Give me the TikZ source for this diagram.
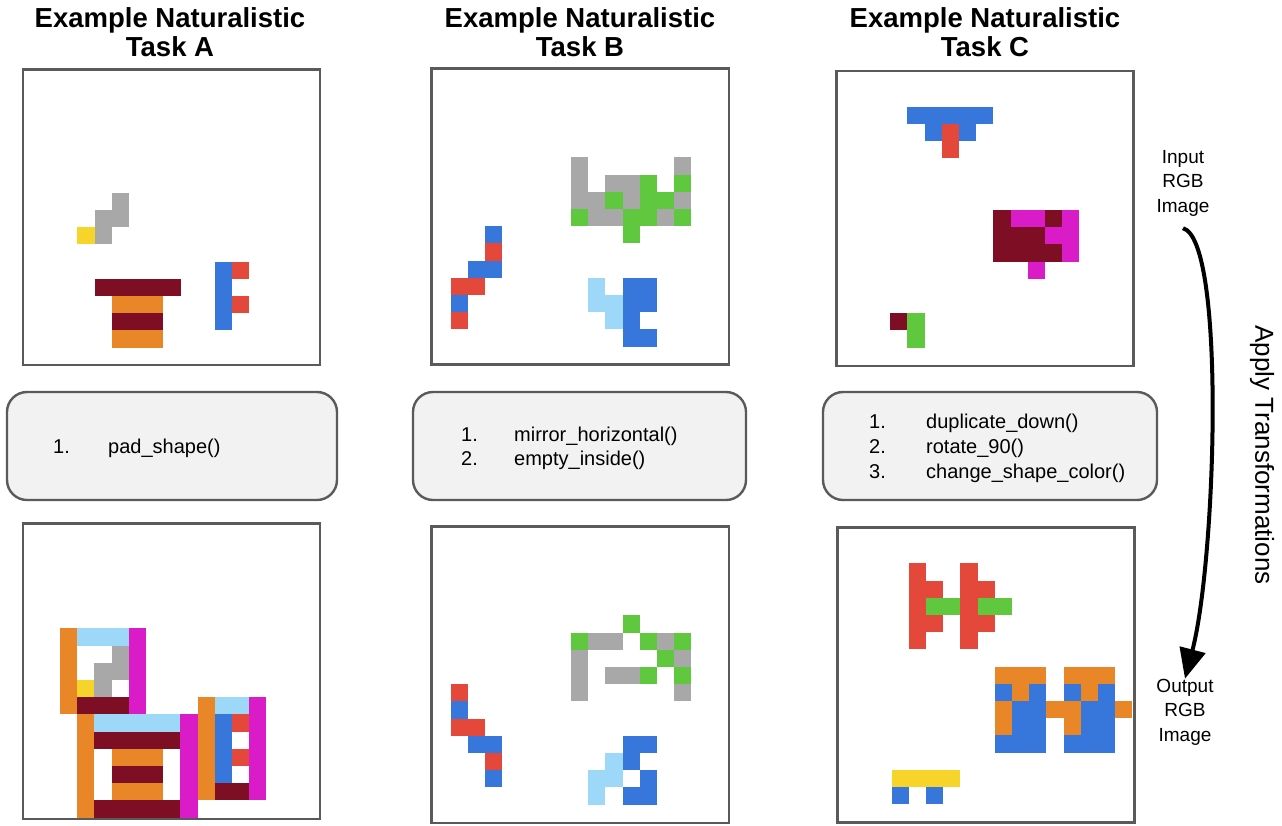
\documentclass[tikz,border=0pt]{standalone}
\usepackage{fontspec}
\setmainfont{Liberation Sans}
\usetikzlibrary{arrows.meta}
\definecolor{cMaroon}{RGB}{125,14,36}
\definecolor{cOrange}{RGB}{232,134,40}
\definecolor{cGrey}{RGB}{168,168,168}
\definecolor{cYellow}{RGB}{246,212,42}
\definecolor{cBlue}{RGB}{55,118,218}
\definecolor{cRed}{RGB}{228,72,58}
\definecolor{cGreen}{RGB}{95,200,62}
\definecolor{cLblue}{RGB}{158,216,248}
\definecolor{cMag}{RGB}{218,28,200}
\definecolor{cBorder}{RGB}{90,90,90}
\definecolor{cBoxFill}{RGB}{242,242,242}
\newcommand\rc[5]{\fill[#5] (#1,#2) rectangle (#3+1,#4+1);}
\tikzset{
  panel/.style={draw=cBorder, line width=2.6pt},
  tbox/.style={draw=cBorder, fill=cBoxFill, line width=2.4pt, rounded corners=20pt, inner sep=0pt},
  title/.style={align=center, inner sep=0pt, font=\fontsize{27.5}{29}\selectfont\bfseries},
  item/.style={anchor=base west, inner sep=0pt, font=\fontsize{20}{24}\selectfont},
  side/.style={align=center, inner sep=0pt, font=\fontsize{19}{24.5}\selectfont},
  flow/.style={line width=4pt, -{Triangle[length=30pt,width=26pt]}},
  grid/.style={x=17.2pt, y=-17.2pt}
}
\begin{document}
\begin{tikzpicture}[x=1pt,y=-1pt]
\useasboundingbox (0,0) rectangle (1282,825);
\fill[white] (0,0) rectangle (1282,825);

% titles
\node[title] (tA) at (170,32) {Example Naturalistic\\Task A};
\node[title] (tB) at (580,32) {Example Naturalistic\\Task B};
\node[title] (tC) at (985,32) {Example Naturalistic\\Task C};

% ---------- Panel A top
\begin{scope}[shift={(77.3,192.7)}, grid]
\rc{2}{0}{2}{1}{cGrey}
\rc{1}{1}{1}{2}{cGrey}
\rc{0}{2}{0}{2}{cYellow}
\rc{1}{5}{5}{5}{cMaroon}
\rc{2}{6}{4}{6}{cOrange}
\rc{2}{7}{4}{7}{cMaroon}
\rc{2}{8}{4}{8}{cOrange}
\rc{8}{4}{8}{7}{cBlue}
\rc{9}{4}{9}{4}{cRed}
\rc{9}{6}{9}{6}{cRed}
\end{scope}
\draw[panel] (22.8,69.5) rectangle (320,365);

% ---------- Panel A bottom
\begin{scope}
\clip (22.8,523.3) rectangle (320,818.8);
\begin{scope}[shift={(60,628.3)}, grid]
\rc{0}{0}{0}{4}{cOrange}
\rc{1}{0}{3}{0}{cLblue}
\rc{4}{0}{4}{4}{cMag}
\rc{3}{1}{3}{2}{cGrey}
\rc{2}{2}{2}{3}{cGrey}
\rc{1}{3}{1}{3}{cYellow}
\rc{1}{4}{3}{4}{cMaroon}
\rc{1}{5}{1}{10}{cOrange}
\rc{2}{5}{6}{5}{cLblue}
\rc{7}{5}{7}{10}{cMag}
\rc{2}{6}{6}{6}{cMaroon}
\rc{3}{7}{5}{7}{cOrange}
\rc{3}{8}{5}{8}{cMaroon}
\rc{3}{9}{5}{9}{cOrange}
\rc{2}{10}{6}{10}{cMaroon}
\rc{8}{4}{8}{9}{cOrange}
\rc{9}{4}{10}{4}{cLblue}
\rc{11}{4}{11}{9}{cMag}
\rc{9}{5}{9}{8}{cBlue}
\rc{10}{5}{10}{5}{cRed}
\rc{10}{7}{10}{7}{cRed}
\rc{9}{9}{10}{9}{cMaroon}
\end{scope}
\end{scope}
\draw[panel] (22.8,523.3) rectangle (320,818.8);

% ---------- Panel B top
\begin{scope}[shift={(571,157.3)}, grid]
\rc{0}{0}{0}{2}{cGrey} \rc{6}{0}{6}{0}{cGrey}
\rc{2}{1}{3}{1}{cGrey} \rc{4}{1}{4}{1}{cGreen} \rc{6}{1}{6}{1}{cGreen}
\rc{1}{2}{1}{3}{cGrey} \rc{2}{2}{2}{2}{cGreen} \rc{3}{2}{3}{2}{cGrey} \rc{4}{2}{5}{2}{cGreen} \rc{6}{2}{6}{2}{cGrey}
\rc{0}{3}{0}{3}{cGreen} \rc{2}{3}{2}{3}{cGrey} \rc{3}{3}{4}{3}{cGreen} \rc{5}{3}{5}{3}{cGrey} \rc{6}{3}{6}{3}{cGreen}
\rc{3}{4}{3}{4}{cGreen}
\rc{-5}{4}{-5}{4}{cBlue}
\rc{-5}{5}{-5}{5}{cRed}
\rc{-6}{6}{-5}{6}{cBlue}
\rc{-7}{7}{-6}{7}{cRed}
\rc{-7}{8}{-7}{8}{cBlue}
\rc{-7}{9}{-7}{9}{cRed}
\rc{1}{7}{1}{8}{cLblue}
\rc{2}{8}{2}{9}{cLblue}
\rc{3}{7}{4}{8}{cBlue}
\rc{3}{9}{3}{9}{cBlue}
\rc{3}{10}{4}{10}{cBlue}
\end{scope}
\draw[panel] (431.3,68.3) rectangle (728.8,364.5);

% ---------- Panel B bottom
\begin{scope}[shift={(571,615.3)}, grid]
\rc{3}{0}{3}{0}{cGreen}
\rc{0}{1}{0}{1}{cGreen} \rc{1}{1}{2}{1}{cGrey} \rc{4}{1}{4}{1}{cGreen} \rc{5}{1}{5}{1}{cGrey} \rc{6}{1}{6}{1}{cGreen}
\rc{0}{2}{0}{4}{cGrey} \rc{5}{2}{5}{2}{cGreen} \rc{6}{2}{6}{2}{cGrey}
\rc{2}{3}{3}{3}{cGrey} \rc{4}{3}{4}{3}{cGreen} \rc{6}{3}{6}{3}{cGreen}
\rc{6}{4}{6}{4}{cGrey}
\rc{-7}{4}{-7}{4}{cRed}
\rc{-7}{5}{-7}{5}{cBlue}
\rc{-7}{6}{-6}{6}{cRed}
\rc{-6}{7}{-5}{7}{cBlue}
\rc{-5}{8}{-5}{8}{cRed}
\rc{-5}{9}{-5}{9}{cBlue}
\rc{3}{7}{4}{7}{cBlue}
\rc{2}{8}{2}{8}{cLblue} \rc{3}{8}{3}{8}{cBlue}
\rc{1}{9}{2}{9}{cLblue} \rc{4}{9}{4}{9}{cBlue}
\rc{1}{10}{1}{10}{cLblue} \rc{3}{10}{4}{10}{cBlue}
\end{scope}
\draw[panel] (431.3,526.7) rectangle (728.8,822.8);

% ---------- Panel C top
\begin{scope}[shift={(907.3,106.7)}, grid]
\rc{0}{0}{4}{0}{cBlue}
\rc{1}{1}{1}{1}{cBlue} \rc{2}{1}{2}{2}{cRed} \rc{3}{1}{3}{1}{cBlue}
\rc{5}{6}{5}{6}{cMaroon} \rc{6}{6}{7}{6}{cMag} \rc{8}{6}{8}{6}{cMaroon} \rc{9}{6}{9}{8}{cMag}
\rc{5}{7}{7}{7}{cMaroon} \rc{8}{7}{8}{7}{cMag}
\rc{5}{8}{8}{8}{cMaroon}
\rc{7}{9}{7}{9}{cMag}
\rc{-1}{12}{-1}{12}{cMaroon}
\rc{0}{12}{0}{13}{cGreen}
\end{scope}
\draw[panel] (836.3,71) rectangle (1133.7,366);

% ---------- Panel C bottom
\begin{scope}
\clip (837.7,527.7) rectangle (1134.3,822.2);
\begin{scope}[shift={(908.7,563.3)}, grid]
\rc{0}{0}{0}{4}{cRed} \rc{1}{1}{1}{1}{cRed} \rc{1}{3}{1}{3}{cRed} \rc{1}{2}{2}{2}{cGreen}
\rc{3}{0}{3}{4}{cRed} \rc{4}{1}{4}{1}{cRed} \rc{4}{3}{4}{3}{cRed} \rc{4}{2}{5}{2}{cGreen}
\rc{5}{6}{7}{6}{cOrange}
\rc{5}{7}{7}{10}{cBlue}
\rc{6}{7}{6}{7}{cOrange}
\rc{5}{8}{5}{9}{cOrange}
\rc{8}{8}{8}{8}{cOrange}
\rc{9}{6}{11}{6}{cOrange}
\rc{9}{7}{11}{10}{cBlue}
\rc{10}{7}{10}{7}{cOrange}
\rc{9}{8}{9}{9}{cOrange}
\rc{12}{8}{12}{8}{cOrange}
\rc{-1}{12}{2}{12}{cYellow}
\rc{-1}{13}{-1}{13}{cBlue}
\rc{1}{13}{1}{13}{cBlue}
\end{scope}
\end{scope}
\draw[panel] (837.7,527.7) rectangle (1134.3,822.2);

% ---------- transformation boxes
\node[tbox, minimum width=330pt, minimum height=108pt] (bA) at (172,446) {};
\node[tbox, minimum width=333pt, minimum height=108pt] (bB) at (579.5,446) {};
\node[tbox, minimum width=334pt, minimum height=108pt] (bC) at (990,446) {};

\node[item] (a1n) at (53,453) {1.};
\node[item] (a1t) at (108,453) {pad\_shape()};

\node[item] (b1n) at (461,441) {1.};
\node[item] (b1t) at (514,441) {mirror\_horizontal()};
\node[item] (b2n) at (461,465) {2.};
\node[item] (b2t) at (514,465) {empty\_inside()};

\node[item] (c1n) at (869,428) {1.};
\node[item] (c1t) at (926,428) {duplicate\_down()};
\node[item] (c2n) at (869,453) {2.};
\node[item] (c2t) at (926,453) {rotate\_90()};
\node[item] (c3n) at (869,478) {3.};
\node[item] (c3t) at (926,478) {change\_shape\_color()};

% ---------- right side
\node[side] (inlbl) at (1183,183) {Input\\RGB\\Image};
\node[side] (outlbl) at (1185,712) {Output\\RGB\\Image};
\node[rotate=-90, inner sep=0pt, font=\fontsize{26}{30}\selectfont] (apply) at (1262,455) {Apply Transformations};
\draw[flow] ([yshift=-12pt]inlbl.south) .. controls (1226,240) and (1216,560) .. (outlbl.north);
\end{tikzpicture}
\end{document}
